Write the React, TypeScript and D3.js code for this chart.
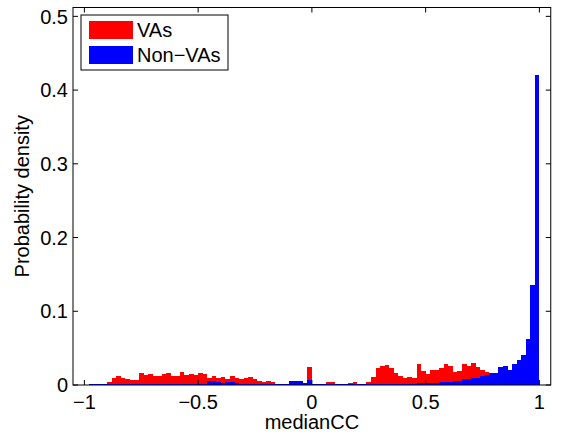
import React from "react";
import * as d3 from "d3";

const binEdges: number[] = d3.range(0, 101).map((i) => -1 + i * 0.02);

const vasDensity: number[] = [
  0, 0, 0, 0.0015, 0.0008, 0.0045, 0.01, 0.012, 0.01, 0.0077,
  0.007, 0.007, 0.0158, 0.0135, 0.015, 0.012, 0.0127, 0.015, 0.016, 0.0127,
  0.0118, 0.017, 0.0136, 0.015, 0.0136, 0.0167, 0.015, 0.01, 0.0127, 0.009,
  0.0113, 0.008, 0.012, 0.009, 0.0077, 0.01, 0.011, 0.0077, 0.0054, 0.0045,
  0.0054, 0.0036, 0.0018, 0.0018, 0.002, 0.0015, 0.001, 0.001, 0.002, 0.025,
  0.002, 0.001, 0.002, 0.0035, 0.0035, 0.0015, 0.0015, 0.002, 0.003, 0.004,
  0.002, 0.001, 0.004, 0.011, 0.023, 0.026, 0.027, 0.0235, 0.016, 0.012,
  0.009, 0.011, 0.01, 0.0285, 0.019, 0.015, 0.021, 0.021, 0.0226, 0.0285,
  0.026, 0.017, 0.019, 0.0285, 0.026, 0.03, 0.024, 0.021, 0.017, 0.012,
  0.008, 0.005, 0.004, 0.003, 0.002, 0.002, 0.001, 0.001, 0.001, 0.001,
];

const nonVasDensity: number[] = [
  0.0005, 0.002, 0.001, 0.001, 0.0008, 0.001, 0.0012, 0.001, 0.001, 0.0012,
  0.001, 0.0012, 0.001, 0.001, 0.0012, 0.001, 0.0015, 0.0012, 0.001, 0.0012,
  0.001, 0.001, 0.0012, 0.001, 0.0012, 0.0015, 0.0015, 0.005, 0.0054, 0.004,
  0.003, 0.0035, 0.0035, 0.003, 0.0015, 0.001, 0.001, 0.001, 0.001, 0.0008,
  0.001, 0.001, 0.001, 0.0012, 0.002, 0.005, 0.0055, 0.005, 0.003, 0.0068,
  0.0012, 0.0014, 0.0014, 0.0014, 0.0014, 0.0014, 0.0014, 0.0014, 0.0014, 0.0014,
  0.0014, 0.0014, 0.0014, 0.0018, 0.0018, 0.0018, 0.0018, 0.002, 0.002, 0.002,
  0.002, 0.002, 0.002, 0.003, 0.003, 0.003, 0.003, 0.003, 0.0035, 0.0035,
  0.0035, 0.005, 0.005, 0.008, 0.008, 0.009, 0.01, 0.012, 0.014, 0.016,
  0.016, 0.024, 0.026, 0.02, 0.029, 0.034, 0.041, 0.063, 0.136, 0.42,
];

const xTicks: number[] = [-1, -0.5, 0, 0.5, 1];
const yTicks: number[] = [0, 0.1, 0.2, 0.3, 0.4, 0.5];
const seriesNames: string[] = ["VAs", "Non\u2212VAs"];
const seriesColors: string[] = ["#ff0000", "#0000ff"];

const W = 561;
const H = 436;
const L = 73;
const R = 550.75;
const T = 7.5;
const B = 385;
const FONT = "'Liberation Sans', Arial, Helvetica, sans-serif";
const FS = 20;

export default function App() {
  const x = d3.scaleLinear().domain([-1.05, 1.05]).range([L, R]);
  const y = d3.scaleLinear().domain([0, 0.512]).range([B, T]);
  const fmt = (v: number) => (v < 0 ? "\u2212" : "") + d3.format("")(Math.abs(v));
  const tickLen = 5;
  const series = [vasDensity, nonVasDensity];

  return (
    <svg
      width={W}
      height={H}
      style={{ position: "absolute", left: 0, top: 0, background: "#fff" }}
      fontFamily={FONT}
    >
      <rect x={0} y={0} width={W} height={H} fill="#fff" />
      {series.map((vals, si) => (
        <g key={si} fill={seriesColors[si]}>
          {vals.map((v, i) =>
            v > 0 ? (
              <rect
                key={i}
                x={x(binEdges[i])}
                width={x(binEdges[i + 1]) - x(binEdges[i])}
                y={y(v)}
                height={y(0) - y(v)}
                shapeRendering="crispEdges"
              />
            ) : null
          )}
        </g>
      ))}
      <rect x={L} y={T} width={R - L} height={B - T} fill="none" stroke="#000" strokeWidth={1} />
      {xTicks.map((t) => (
        <g key={"x" + t}>
          <line x1={x(t)} x2={x(t)} y1={B} y2={B - tickLen} stroke="#000" />
          <line x1={x(t)} x2={x(t)} y1={T} y2={T + tickLen} stroke="#000" />
          <text x={x(t)} y={409} textAnchor="middle" fontSize={FS}>
            {fmt(t)}
          </text>
        </g>
      ))}
      {yTicks.map((t) => (
        <g key={"y" + t}>
          <line x1={L} x2={L + tickLen} y1={y(t)} y2={y(t)} stroke="#000" />
          <line x1={R} x2={R - tickLen} y1={y(t)} y2={y(t)} stroke="#000" />
          <text x={68} y={y(t)} dy="0.36em" textAnchor="end" fontSize={FS}>
            {fmt(t)}
          </text>
        </g>
      ))}
      <text x={(L + R) / 2} y={429} textAnchor="middle" fontSize={FS}>
        medianCC
      </text>
      <text
        transform={`translate(29,${(T + B) / 2}) rotate(-90)`}
        textAnchor="middle"
        fontSize={FS}
      >
        Probability density
      </text>
      <g>
        <rect x={81} y={15} width={147} height={55} fill="#fff" stroke="#000" strokeWidth={1} />
        {seriesNames.map((n, i) => (
          <g key={n}>
            <rect x={89} y={21 + i * 25} width={44} height={18} fill={seriesColors[i]} />
            <text x={137} y={30 + i * 25} dy="0.36em" fontSize={FS}>
              {n}
            </text>
          </g>
        ))}
      </g>
    </svg>
  );
}
